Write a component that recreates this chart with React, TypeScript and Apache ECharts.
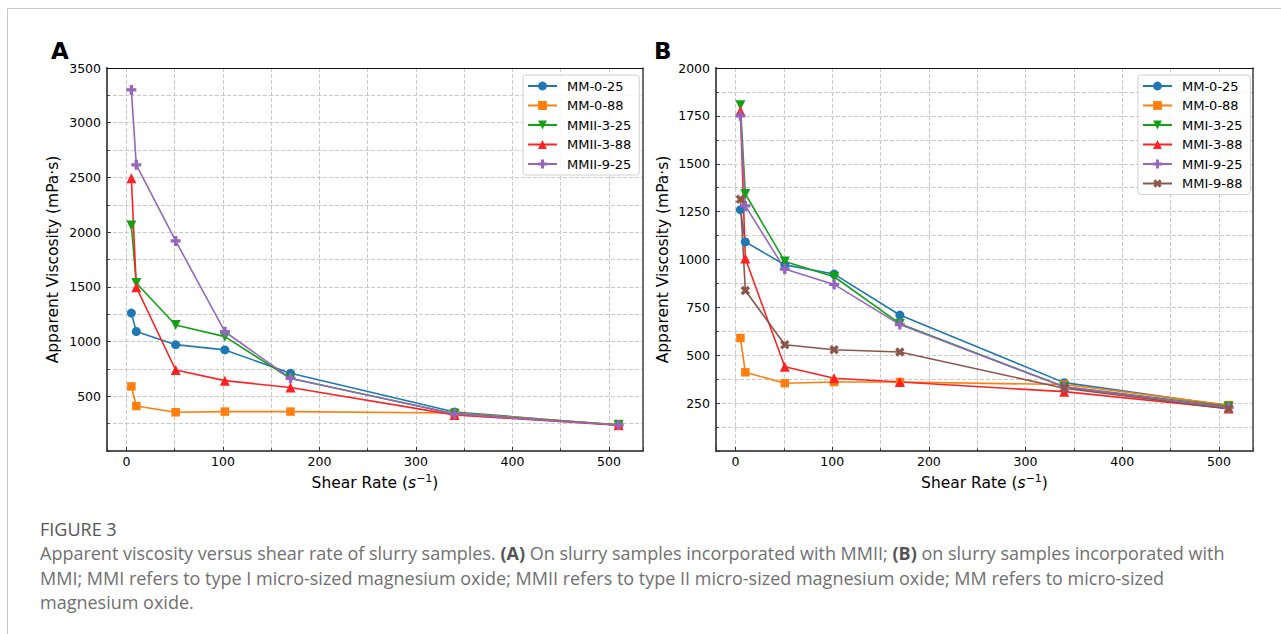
import React, { useEffect, useRef } from "react";
import * as echarts from "echarts";

// ---- data ----
const shearRate = [5.1, 10.2, 51, 102, 170, 340, 510];

// Panel A (MMII)
const namesA = ["MM-0-25", "MM-0-88", "MMII-3-25", "MMII-3-88", "MMII-9-25"];
const mm0_25 = [1260, 1092, 972, 924, 710, 357, 236];
const mm0_88 = [590, 411, 354, 360, 360, 347, 240];
const mmii3_25 = [2060, 1535, 1152, 1045, 662, 340, 240];
const mmii3_88 = [2493, 1497, 740, 643, 580, 330, 235];
const mmii9_25 = [3300, 2615, 1920, 1090, 665, 338, 238];

// Panel B (MMI)
const namesB = ["MM-0-25", "MM-0-88", "MMI-3-25", "MMI-3-88", "MMI-9-25", "MMI-9-88"];
const mmi3_25 = [1805, 1342, 990, 910, 665, 335, 232];
const mmi3_88 = [1775, 1005, 440, 380, 360, 310, 222];
const mmi9_25 = [1750, 1280, 950, 870, 660, 335, 228];
const mmi9_88 = [1315, 838, 555, 529, 517, 328, 220];

const yTicksA = { min: 0, max: 3500, step: 500 };
const yTicksB = { min: 0, max: 2000, step: 250 };

const PLUS = "path://M-1,-3H1V-1H3V1H1V3H-1V1H-3V-1H-1Z";

const styles: Record<string, { color: string; symbol: string; rotate: number; size: number }> = {
  "MM-0-25": { color: "#1f77b4", symbol: "circle", rotate: 0, size: 9 },
  "MM-0-88": { color: "#ff7f0e", symbol: "rect", rotate: 0, size: 8.5 },
  "3-25": { color: "#16a016", symbol: "triangle", rotate: 180, size: 10 },
  "3-88": { color: "#ff2222", symbol: "triangle", rotate: 0, size: 10 },
  "9-25": { color: "#9467bd", symbol: PLUS, rotate: 0, size: 10 },
  "9-88": { color: "#8c564b", symbol: PLUS, rotate: 45, size: 10 },
};

function styleFor(name: string) {
  if (styles[name]) return styles[name];
  const key = name.split("-").slice(1).join("-");
  return styles[key];
}

function makeSeries(name: string, values: number[], idx: number) {
  const st = styleFor(name);
  return {
    type: "line",
    name,
    xAxisIndex: idx * 2,
    yAxisIndex: idx * 2,
    data: shearRate.map((x, i) => [x, values[i]]),
    symbol: st.symbol,
    symbolSize: st.size,
    symbolRotate: st.rotate,
    showAllSymbol: true,
    lineStyle: { color: st.color, width: 1.6 },
    itemStyle: { color: st.color, borderColor: st.color, borderWidth: 0 },
    emphasis: { disabled: true },
  };
}

const FONT = "DejaVu Sans";
const gridLine = { show: true, lineStyle: { color: "#c9c9c9", width: 1, type: [4, 2] } };

function xAxes(gridIndex: number) {
  return [
    {
      type: "value",
      gridIndex,
      min: -20.145,
      max: 535.245,
      axisLine: { show: true, onZero: false, lineStyle: { color: "#555", width: 2 } },
      axisTick: { show: true, inside: true, length: 4, lineStyle: { color: "#333", width: 1 } },
      minorTick: { show: true, splitNumber: 2, length: 2.5, lineStyle: { color: "#333", width: 1 } },
      axisLabel: {
        color: "#000",
        fontSize: 12.5,
        fontFamily: FONT,
        margin: 4,
        formatter: (v: number) => (Math.abs(v % 100) < 1e-6 ? String(v) : ""),
      },
      splitLine: gridLine,
      minorSplitLine: gridLine,
      name: "{n|Shear Rate (}{i|s}{sup|−1}{n|)}",
      nameLocation: "middle",
      nameGap: 20,
      nameTextStyle: {
        rich: {
          n: { fontSize: 15.5, fontFamily: FONT, color: "#000" },
          i: { fontSize: 15.5, fontFamily: FONT, fontStyle: "italic", color: "#000" },
          sup: { fontSize: 11, fontFamily: FONT, color: "#000", verticalAlign: "bottom", padding: [0, 0, 10, 0] },
        },
      },
    },
    {
      type: "value",
      gridIndex,
      position: "top",
      min: -20.145,
      max: 535.245,
      axisLine: { show: true, onZero: false, lineStyle: { color: "#111", width: 1 } },
      axisTick: { show: false },
      axisLabel: { show: false },
      splitLine: { show: false },
      z: 5,
    },
  ];
}

function yAxes(gridIndex: number, t: { min: number; max: number; step: number }, nameGap: number) {
  return [
    {
      type: "value",
      gridIndex,
      min: t.min,
      max: t.max,
      interval: t.step,
      axisLine: { show: true, onZero: false, lineStyle: { color: "#555", width: 2 } },
      axisTick: { show: true, inside: true, length: 4, lineStyle: { color: "#333", width: 1 } },
      minorTick: { show: true, splitNumber: 2, length: 2.5, lineStyle: { color: "#333", width: 1 } },
      axisLabel: {
        color: "#000",
        fontSize: 12.5,
        fontFamily: FONT,
        margin: 6,
        formatter: (v: number) => (v === 0 ? "" : String(v)),
      },
      splitLine: gridLine,
      minorSplitLine: gridLine,
      name: "Apparent Viscosity (mPa·s)",
      nameLocation: "middle",
      nameGap,
      nameTextStyle: { fontSize: 15.5, fontFamily: FONT, color: "#000" },
    },
    {
      type: "value",
      gridIndex,
      position: "right",
      min: t.min,
      max: t.max,
      interval: t.step,
      axisLine: { show: true, onZero: false, lineStyle: { color: "#444", width: 1.5 } },
      axisTick: { show: false },
      axisLabel: { show: false },
      splitLine: { show: false },
      z: 5,
    },
  ];
}

function legend(names: string[], left: number) {
  return {
    orient: "vertical",
    left,
    top: 75,
    data: names,
    itemWidth: 29,
    itemHeight: 11,
    itemGap: 6.5,
    padding: [4.5, 8, 4.5, 4],
    backgroundColor: "rgba(255,255,255,0.85)",
    borderColor: "#d0d0d0",
    borderWidth: 1,
    borderRadius: 3,
    textStyle: { fontSize: 13, fontFamily: FONT, color: "#000", padding: [0, 0, 0, 5] },
    selectedMode: false,
  };
}

const captionTitle = "FIGURE 3";
const captionLine1 =
  "Apparent viscosity versus shear rate of slurry samples. {b|(A)} On slurry samples incorporated with MMII; {b|(B)} on slurry samples incorporated with";
const captionLine2 =
  "MMI; MMI refers to type I micro-sized magnesium oxide; MMII refers to type II micro-sized magnesium oxide; MM refers to micro-sized";
const captionLine3 = "magnesium oxide.";

export default function App() {
  const ref = useRef<HTMLDivElement>(null);
  useEffect(() => {
    if (!ref.current) return;
    const chart = echarts.init(ref.current, null, { renderer: "svg" });
    const seriesA = [mm0_25, mm0_88, mmii3_25, mmii3_88, mmii9_25].map((v, i) => makeSeries(namesA[i], v, 0));
    const seriesB = [mm0_25, mm0_88, mmi3_25, mmi3_88, mmi9_25, mmi9_88].map((v, i) => makeSeries(namesB[i], v, 1));
    const capStyle = { fontFamily: "Open Sans", fontSize: 18, fill: "#707070" };
    chart.setOption({
      animation: false,
      backgroundColor: "#fff",
      textStyle: { fontFamily: FONT },
      grid: [
        { left: 107, top: 68, width: 536, height: 383, containLabel: false },
        { left: 716, top: 68, width: 537, height: 383, containLabel: false },
      ],
      xAxis: [...xAxes(0), ...xAxes(1)],
      yAxis: [...yAxes(0, yTicksA, 46), ...yAxes(1, yTicksB, 45)],
      legend: [legend(namesA, 523), legend(namesB, 1138)],
      series: [...seriesA, ...seriesB],
      graphic: [
        { type: "line", shape: { x1: 7.5, y1: 8.5, x2: 1281, y2: 8.5 }, style: { stroke: "#c8c8c8", lineWidth: 1 }, silent: true },
        { type: "line", shape: { x1: 7.5, y1: 8.5, x2: 7.5, y2: 634 }, style: { stroke: "#c8c8c8", lineWidth: 1 }, silent: true },
        { type: "text", x: 51, y: 51, style: { text: "A", fontFamily: FONT, fontWeight: "bold", fontSize: 23, fill: "#000", verticalAlign: "middle" } },
        { type: "text", x: 654, y: 51, style: { text: "B", fontFamily: FONT, fontWeight: "bold", fontSize: 23, fill: "#000", verticalAlign: "middle" } },
        { type: "text", x: 40, y: 529, style: { text: captionTitle, fontFamily: "Open Sans", fontSize: 18, fill: "#555", verticalAlign: "middle" } },
        {
          type: "text",
          x: 40,
          y: 553,
          style: {
            ...capStyle,
            text: captionLine1,
            verticalAlign: "middle",
            rich: { b: { fontFamily: "Open Sans", fontSize: 18, fontWeight: "bold", fill: "#555" } },
          },
        },
        { type: "text", x: 40, y: 578, style: { ...capStyle, text: captionLine2, verticalAlign: "middle" } },
        { type: "text", x: 40, y: 602, style: { ...capStyle, text: captionLine3, verticalAlign: "middle" } },
      ],
    });
    return () => chart.dispose();
  }, []);
  return <div ref={ref} style={{ position: "fixed", left: 0, top: 0, width: 1281, height: 634 }} />;
}
